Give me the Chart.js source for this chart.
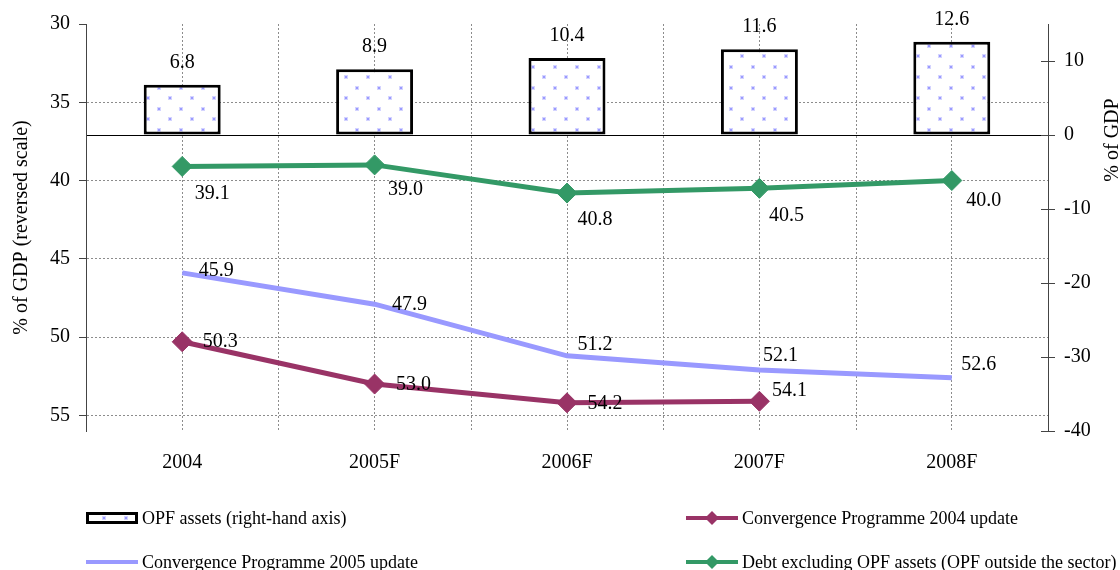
<!DOCTYPE html>
<html>
<head>
<meta charset="utf-8">
<script src="https://cdn.jsdelivr.net/npm/chart.js@4.4.1/dist/chart.umd.min.js"></script>
<style>
  html, body { margin: 0; padding: 0; background: #fff; }
  #wrap { width: 1120px; height: 570px; position: relative; }
</style>
</head>
<body>
<div id="wrap"><canvas id="c" width="1120" height="570"></canvas></div>
<script>
// ---- data -------------------------------------------------------------
const years      = ['2004', '2005F', '2006F', '2007F', '2008F'];
const opfAssets  = [6.8, 8.9, 10.4, 11.6, 12.6];          // right-hand axis, % of GDP
const cp2004     = [50.3, 53.0, 54.2, 54.1, null];        // left axis (reversed)
const cp2005     = [45.9, 47.9, 51.2, 52.1, 52.6];
const debtExOpf  = [39.1, 39.0, 40.8, 40.5, 40.0];
const leftTicks  = [30, 35, 40, 45, 50, 55];
const rightTicks = [-40, -30, -20, -10, 0, 10];

// ---- look -------------------------------------------------------------
const SERIF = "'Liberation Serif', 'Times New Roman', serif";
const GRID = '#8c8c8c';
const AXIS = '#444';
const PURPLE = '#993366';
const GREEN = '#339966';
const LILAC = '#9999ff';

// value-label offsets (px) from each point
const labelOffsets = {
  opf:    [[0, -22], [0, -22], [0, -22], [0, -22], [0, -22]],
  cp2004: [[38, 0], [39, 1], [38, 1], [30, -11], [0, 0]],
  cp2005: [[34, -2], [35, 1], [28, -11], [21, -14], [27, -13]],
  debt:   [[30, 27], [31, 25], [28, 27], [27, 27], [32, 20]]
};

Chart.defaults.font.family = SERIF;
Chart.defaults.color = '#000';

const canvas = document.getElementById('c');
const ctx = canvas.getContext('2d');

// dotted fill for the OPF bars
function makeDots(target) {
  const t = document.createElement('canvas');
  t.width = 22; t.height = 21;
  const g = t.getContext('2d');
  g.fillStyle = '#fff';
  g.fillRect(0, 0, 22, 21);
  g.fillStyle = '#d4d4ff';
  g.fillRect(3, 2, 4, 4);
  g.fillRect(14, 12, 4, 4);
  g.fillStyle = '#9a9aff';
  g.fillRect(4, 3, 2, 2);
  g.fillRect(15, 13, 2, 2);
  return target.createPattern(t, 'repeat');
}
const dots = makeDots(ctx);

// dashed vertical lines half-way between categories
const betweenGrid = {
  id: 'betweenGrid',
  beforeDatasetsDraw(chart) {
    const x = chart.scales.x, a = chart.chartArea, c = chart.ctx;
    c.save();
    c.strokeStyle = GRID;
    c.lineWidth = 1;
    c.setLineDash([2, 2]);
    for (let i = 0; i < years.length - 1; i++) {
      const px = Math.round((x.getPixelForValue(i) + x.getPixelForValue(i + 1)) / 2) + 0.5;
      c.beginPath();
      c.moveTo(px, a.top);
      c.lineTo(px, a.bottom);
      c.stroke();
    }
    c.restore();
  }
};

// inner half of the cross-shaped tick marks on the right axis
const crossTicks = {
  id: 'crossTicks',
  afterDraw(chart) {
    const s = chart.scales.y2, c = chart.ctx;
    c.save();
    c.strokeStyle = AXIS;
    c.lineWidth = 1;
    s.ticks.forEach(t => {
      const py = Math.round(s.getPixelForValue(t.value)) + 0.5;
      c.beginPath();
      c.moveTo(s.left - 7, py);
      c.lineTo(s.left, py);
      c.stroke();
    });
    c.restore();
  }
};

// value labels
const valueLabels = {
  id: 'valueLabels',
  afterDatasetsDraw(chart) {
    const c = chart.ctx;
    c.save();
    c.font = '20px ' + SERIF;
    c.fillStyle = '#000';
    c.textAlign = 'center';
    c.textBaseline = 'middle';
    chart.data.datasets.forEach((ds, di) => {
      const meta = chart.getDatasetMeta(di);
      const offs = ds.labelOffsets;
      meta.data.forEach((el, i) => {
        const v = ds.data[i];
        if (v === null || v === undefined) return;
        const o = offs[i];
        c.fillText(v.toFixed(1), el.x + o[0], el.y + o[1]);
      });
    });
    c.restore();
  }
};

// two-column legend under the plot, plus the right-hand axis title
const sideBits = {
  id: 'sideBits',
  afterDraw(chart) {
    const c = chart.ctx;
    c.save();
    // right axis title
    c.font = '20px ' + SERIF;
    c.fillStyle = '#000';
    c.textAlign = 'center';
    c.textBaseline = 'middle';
    c.translate(1113, 140);
    c.rotate(-Math.PI / 2);
    c.fillText('% of GDP', 0, 0);
    c.restore();

    c.save();
    const cols = [86, 686];
    const rows = [518, 562];
    c.font = '18px ' + SERIF;
    c.textBaseline = 'middle';
    c.textAlign = 'left';
    chart.data.datasets.forEach((ds, i) => {
      const x = cols[i % 2], y = rows[Math.floor(i / 2)];
      if (ds.type === 'bar') {
        c.fillStyle = dots;
        c.fillRect(x, y - 6, 52, 12);
        c.strokeStyle = '#000';
        c.lineWidth = 3;
        c.strokeRect(x + 1.5, y - 4.5, 49, 9);
      } else {
        c.strokeStyle = ds.borderColor;
        c.lineWidth = 4;
        c.beginPath();
        c.moveTo(x, y);
        c.lineTo(x + 52, y);
        c.stroke();
        if (ds.pointRadius > 0) {
          c.fillStyle = ds.pointBackgroundColor;
          c.beginPath();
          c.moveTo(x + 26, y - 7);
          c.lineTo(x + 33, y);
          c.lineTo(x + 26, y + 7);
          c.lineTo(x + 19, y);
          c.closePath();
          c.fill();
        }
      }
      c.fillStyle = '#000';
      c.fillText(ds.label, x + 56, y + 1);
    });
    c.restore();
  }
};

function lineSet(label, data, color, withMarkers, offs) {
  return {
    type: 'line',
    label: label,
    data: data,
    yAxisID: 'y',
    borderColor: color,
    backgroundColor: color,
    borderWidth: 5,
    tension: 0,
    spanGaps: false,
    pointStyle: 'rectRot',
    pointRadius: withMarkers ? 10 : 0,
    pointHoverRadius: withMarkers ? 10 : 0,
    pointBorderWidth: 1,
    pointBackgroundColor: color,
    pointBorderColor: color,
    labelOffsets: offs,
    order: 0
  };
}

new Chart(ctx, {
  type: 'bar',
  data: {
    labels: years,
    datasets: [
      {
        type: 'bar',
        label: 'OPF assets (right-hand axis)',
        data: opfAssets,
        yAxisID: 'y2',
        backgroundColor: dots,
        borderColor: '#000',
        borderWidth: 3,
        borderSkipped: false,
        barPercentage: 0.4,
        categoryPercentage: 1.0,
        labelOffsets: labelOffsets.opf,
        order: 1
      },
      lineSet('Convergence Programme 2004 update', cp2004, PURPLE, true, labelOffsets.cp2004),
      lineSet('Convergence Programme 2005 update', cp2005, LILAC, false, labelOffsets.cp2005),
      lineSet('Debt excluding OPF assets (OPF outside the sector)', debtExOpf, GREEN, true, labelOffsets.debt)
    ]
  },
  options: {
    responsive: false,
    animation: false,
    devicePixelRatio: 1,
    layout: { padding: { top: 24, left: 0, right: 0, bottom: 0 } },
    plugins: {
      legend: { display: false },
      tooltip: { enabled: false }
    },
    scales: {
      x: {
        offset: true,
        grid: { offset: false, color: GRID, lineWidth: 1, drawTicks: false },
        border: { display: false, dash: [2, 2] },
        ticks: { font: { size: 20 }, color: '#000', padding: 20, maxRotation: 0 },
        afterFit: s => { s.height = 139; }
      },
      y: {
        position: 'left',
        reverse: true,
        min: 30,
        max: 56,
        afterBuildTicks: s => { s.ticks = leftTicks.map(v => ({ value: v })); },
        grid: {
          color: c => (c.tick && c.tick.value === 30) ? 'rgba(0,0,0,0)' : GRID,
          lineWidth: 1,
          tickColor: AXIS,
          tickLength: 7
        },
        border: { color: AXIS, width: 1, dash: [2, 2] },
        ticks: { font: { size: 20 }, color: '#000', padding: 9 },
        title: {
          display: true,
          text: '% of GDP (reversed scale)',
          font: { size: 20 },
          color: '#000',
          padding: { top: 10, bottom: 0 }
        },
        afterFit: s => { s.width = 86; }
      },
      y2: {
        position: 'right',
        min: -40,
        max: 15,
        afterBuildTicks: s => { s.ticks = rightTicks.map(v => ({ value: v })); },
        grid: {
          color: c => (c.tick && c.tick.value === 0) ? '#000' : 'rgba(0,0,0,0)',
          lineWidth: 1,
          tickColor: AXIS,
          tickLength: 7
        },
        border: { color: AXIS, width: 1 },
        ticks: { font: { size: 20 }, color: '#000', padding: 9 },
        afterFit: s => { s.width = 72; }
      }
    }
  },
  plugins: [betweenGrid, valueLabels, crossTicks, sideBits]
});
</script>
</body>
</html>
